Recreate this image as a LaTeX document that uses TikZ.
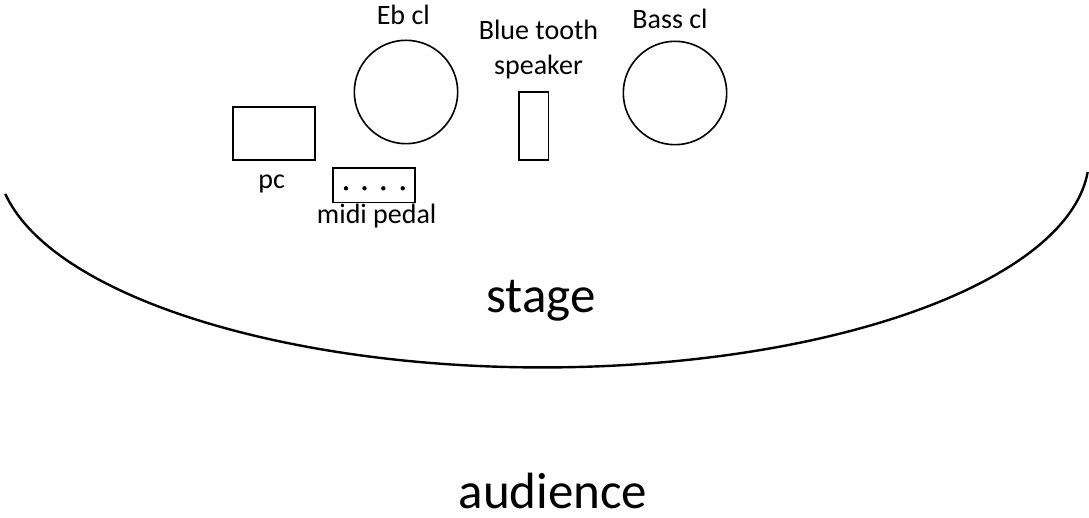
\documentclass[tikz,border=0pt]{standalone}
\usepackage{fontspec}
\setmainfont{Carlito}
\begin{document}
\begin{tikzpicture}[x=1pt,y=-1pt,
  shapeline/.style={draw=black, line width=1.6pt},
  instrument/.style={shapeline, circle, minimum size=103.4pt, inner sep=0pt},
  lbl/.style={font=\fontsize{28}{35}\selectfont, inner sep=0pt, anchor=base, align=center},
  biglbl/.style={font=\fontsize{51}{60}\selectfont, inner sep=0pt, anchor=base},
  stagearc/.style={draw=black, line width=2.4pt}]
\useasboundingbox (0,0) rectangle (1089,518);
% stage edge
\coordinate (arcstart) at ([shift={(170:546 and 210)}]543,157.4);
\draw[stagearc] (arcstart) arc[start angle=170, end angle=4, x radius=546, y radius=210];
% instruments
\node[instrument] (eb) at (406,92) {};
\node[lbl] (ebl) at (403.3,25) {Eb cl};
\node[instrument] (bass) at (675,93) {};
\node[lbl] (bassl) at (670,28.3) {Bass cl};
% speaker
\node[shapeline, rectangle, minimum width=29.7pt, minimum height=68pt, inner sep=0pt] (spk) at (533.8,126.3) {};
\node[lbl] (spkl) at (538.5,75) {Blue tooth\\speaker};
% pc
\node[shapeline, rectangle, minimum width=82pt, minimum height=52.7pt, inner sep=0pt] (pc) at (273.7,133.6) {};
\node[lbl] (pcl) at (271.7,188.3) {pc};
% midi pedal
\node[shapeline, rectangle, minimum width=82.3pt, minimum height=34.4pt, inner sep=0pt] (midi) at (373.9,185.5) {};
\foreach \dx in {346,364.5,383.3,402.7} \fill (\dx,188.3) circle[radius=2.2];
\node[lbl] (midil) at (376.7,224) {midi pedal};
% big labels
\node[biglbl] (stage) at (541,313) {stage};
\node[biglbl, text depth=0pt] (aud) at (553,508) {audience};
\end{tikzpicture}
\end{document}
